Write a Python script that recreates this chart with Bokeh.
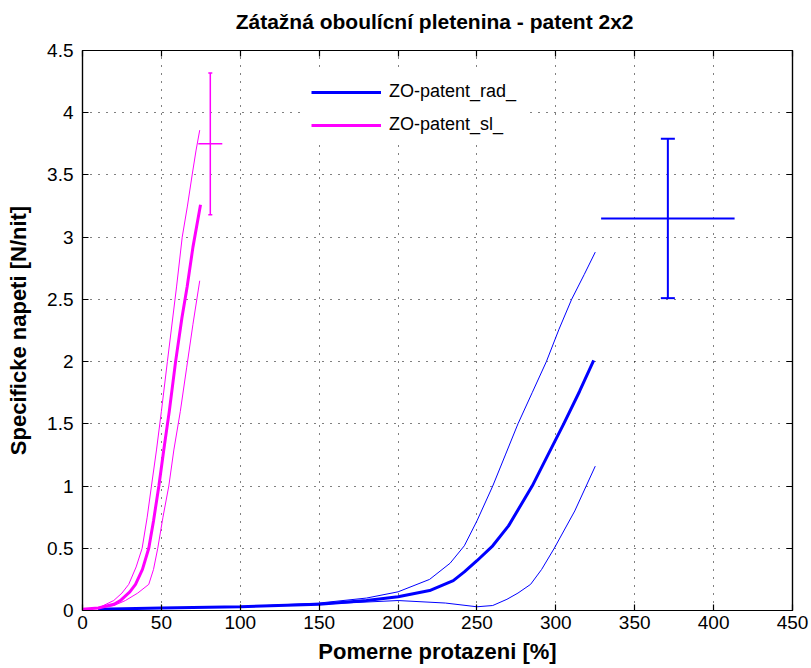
from bokeh.plotting import figure
from bokeh.models import (ColumnDataSource, Whisker, TeeHead, LinearAxis, FixedTicker,
                          Range1d, Legend, LegendItem, CustomJSTickFormatter)
from bokeh.embed import file_html
from bokeh.resources import INLINE

# ---------------- data ----------------
title_text = "Zátažná oboulícní pletenina  - patent 2x2"
x_label = "Pomerne protazeni [%]"
y_label = "Specificke napeti [N/nit]"
series_names = ["ZO-patent_rad_", "ZO-patent_sl_"]

x_ticks = [0, 50, 100, 150, 200, 250, 300, 350, 400, 450]
x_tick_labels = ["0", "50", "100", "150", "200", "250", "300", "350", "400", "450"]
y_ticks = [0, 0.5, 1, 1.5, 2, 2.5, 3, 3.5, 4, 4.5]
y_tick_labels = ["0", "0.5", "1", "1.5", "2", "2.5", "3", "3.5", "4", "4.5"]

# ZO-patent_rad_ (blue): mean curve and the two envelope curves
rad_mean_x = [10, 50, 100, 150, 180, 200, 220, 235, 242, 250, 260, 270, 285, 295, 305, 315, 324]
rad_mean_y = [0.01, 0.02, 0.03, 0.05, 0.08, 0.11, 0.16, 0.24, 0.31, 0.40, 0.52, 0.68, 1.0, 1.25, 1.5, 1.76, 2.01]
rad_upper_x = [10, 50, 100, 150, 180, 200, 220, 233, 242, 250, 260, 268, 276, 285, 294, 302, 310, 318, 325]
rad_upper_y = [0.01, 0.02, 0.03, 0.06, 0.10, 0.15, 0.25, 0.38, 0.52, 0.72, 1.0, 1.25, 1.5, 1.75, 2.0, 2.26, 2.5, 2.7, 2.88]
rad_lower_x = [10, 50, 100, 150, 200, 230, 250, 260, 269, 276, 284, 291, 299, 312, 325]
rad_lower_y = [0.01, 0.02, 0.03, 0.05, 0.08, 0.06, 0.03, 0.04, 0.09, 0.14, 0.21, 0.33, 0.5, 0.8, 1.16]

# ZO-patent_sl_ (magenta)
sl_mean_x = [0, 10, 20, 24, 30, 33.6, 38, 42, 45, 48.4, 51.5, 55, 59, 63, 66.3, 70, 74.8]
sl_mean_y = [0.01, 0.02, 0.05, 0.08, 0.15, 0.21, 0.33, 0.5, 0.72, 1.0, 1.29, 1.6, 2.0, 2.35, 2.6, 2.92, 3.26]
sl_upper_x = [0, 10, 19.8, 25, 29.3, 34, 37.8, 41, 43.7, 46.9, 50, 53.8, 59.6, 63.2, 66.5, 69.5, 72, 74.3]
sl_upper_y = [0.01, 0.02, 0.08, 0.14, 0.21, 0.35, 0.5, 0.75, 1.0, 1.29, 1.6, 2.0, 2.6, 3.0, 3.25, 3.5, 3.7, 3.86]
sl_lower_x = [0, 10, 20, 27.2, 35, 42, 45, 47.7, 51, 54.7, 57.9, 62, 66, 70, 74.3]
sl_lower_y = [0.01, 0.02, 0.04, 0.08, 0.14, 0.21, 0.33, 0.5, 0.75, 1.0, 1.29, 1.6, 1.95, 2.3, 2.65]

# error crosses at breaking point: mean and standard deviation
break_x = [371.0, 81.0]
break_x_err = [42.3, 7.6]
break_y = [3.15, 3.75]
break_y_err = [0.64, 0.57]

colors = ["#0000ff", "#ff00ff"]

FONT = "Liberation Sans"

# ---------------- figure ----------------
p = figure(frame_width=710, frame_height=560,
           x_range=Range1d(0, 450), y_range=Range1d(0, 4.5),
           output_backend="svg", toolbar_location=None,
           min_border_left=82, min_border_right=19, min_border_top=50, min_border_bottom=58,
           background_fill_color="white", border_fill_color="white")

p.title.text = title_text
p.title.align = "center"
p.title.text_font = FONT
p.title.text_font_style = "bold"
p.title.text_font_size = "21px"
p.title.text_color = "#000000"
p.title.standoff = 0

p.outline_line_color = "black"
p.outline_line_width = 1.2

for ax, ticks, labels in ((p.xaxis[0], x_ticks, x_tick_labels), (p.yaxis[0], y_ticks, y_tick_labels)):
    ax.ticker = FixedTicker(ticks=ticks)
    ax.major_label_overrides = {t: l for t, l in zip(ticks, labels)}
    ax.major_tick_in = 6
    ax.major_tick_out = 0
    ax.minor_tick_line_color = None
    ax.axis_line_color = "black"
    ax.axis_line_width = 1.2
    ax.major_tick_line_color = "black"
    ax.major_tick_line_width = 1.2
    ax.major_label_text_font = FONT
    ax.major_label_text_font_size = "19px"
    ax.major_label_text_color = "#000000"
    ax.axis_label_text_font = FONT
    ax.axis_label_text_font_style = "bold"
    ax.axis_label_text_color = "#000000"

p.xaxis.axis_label = x_label
p.yaxis.axis_label = y_label
p.xaxis.axis_label_text_font_size = "22px"
p.yaxis.axis_label_text_font_size = "22px"
p.xaxis.major_label_standoff = 5
p.yaxis.major_label_standoff = 9
p.xaxis.axis_label_standoff = 7
p.yaxis.axis_label_standoff = 13

# box ticks on the top and right sides
blank = CustomJSTickFormatter(code="return ''")
top_ax = LinearAxis(ticker=FixedTicker(ticks=x_ticks), formatter=blank,
                    major_tick_in=6, major_tick_out=0, minor_tick_line_color=None,
                    major_label_standoff=0, axis_line_width=1.2, major_tick_line_width=1.2)
right_ax = LinearAxis(ticker=FixedTicker(ticks=y_ticks), formatter=blank,
                      major_tick_in=6, major_tick_out=0, minor_tick_line_color=None,
                      major_label_standoff=0, axis_line_width=1.2, major_tick_line_width=1.2)
# invisible spacer between the frame and the title
spacer_ax = LinearAxis(ticker=FixedTicker(ticks=x_ticks), formatter=blank,
                       major_tick_in=0, major_tick_out=18, major_tick_line_color=None,
                       minor_tick_line_color=None, axis_line_color=None, major_label_standoff=0)
p.add_layout(top_ax, "above")
p.add_layout(spacer_ax, "above")
p.add_layout(right_ax, "right")

p.xgrid.ticker = FixedTicker(ticks=x_ticks)
p.ygrid.ticker = FixedTicker(ticks=y_ticks)
p.grid.grid_line_color = "#000000"
p.grid.grid_line_width = 1
p.grid.grid_line_dash = "1 7"

# ---------------- curves ----------------
p.line(rad_upper_x, rad_upper_y, color=colors[0], line_width=1)
p.line(rad_lower_x, rad_lower_y, color=colors[0], line_width=1)
r_rad = p.line(rad_mean_x, rad_mean_y, color=colors[0], line_width=3)

p.line(sl_upper_x, sl_upper_y, color=colors[1], line_width=1)
p.line(sl_lower_x, sl_lower_y, color=colors[1], line_width=1)
r_sl = p.line(sl_mean_x, sl_mean_y, color=colors[1], line_width=3)

# ---------------- error crosses ----------------
cap_sizes = [14, 4]
widths = [2, 1.5]
for i in range(2):
    src = ColumnDataSource(dict(
        x=[break_x[i]], y=[break_y[i]],
        xl=[break_x[i] - break_x_err[i]], xu=[break_x[i] + break_x_err[i]],
        yl=[break_y[i] - break_y_err[i]], yu=[break_y[i] + break_y_err[i]]))
    wv = Whisker(source=src, base="x", lower="yl", upper="yu", dimension="height",
                 line_color=colors[i], line_width=widths[i],
                 upper_head=TeeHead(size=cap_sizes[i], line_color=colors[i], line_width=widths[i]),
                 lower_head=TeeHead(size=cap_sizes[i], line_color=colors[i], line_width=widths[i]))
    wh = Whisker(source=src, base="y", lower="xl", upper="xu", dimension="width",
                 line_color=colors[i], line_width=widths[i],
                 upper_head=None, lower_head=None)
    p.add_layout(wv)
    p.add_layout(wh)

# ---------------- legend ----------------
legend = Legend(items=[LegendItem(label=series_names[0], renderers=[r_rad]),
                       LegendItem(label=series_names[1], renderers=[r_sl])],
                location=(221, 467), orientation="vertical",
                glyph_width=70, glyph_height=20, label_height=20, spacing=12,
                label_standoff=8, padding=8, margin=0,
                border_line_alpha=0, background_fill_color="white", background_fill_alpha=1,
                label_text_font=FONT, label_text_font_size="18px", label_text_color="#000000")
p.add_layout(legend)

open("out.html", "w").write(file_html(p, INLINE))
